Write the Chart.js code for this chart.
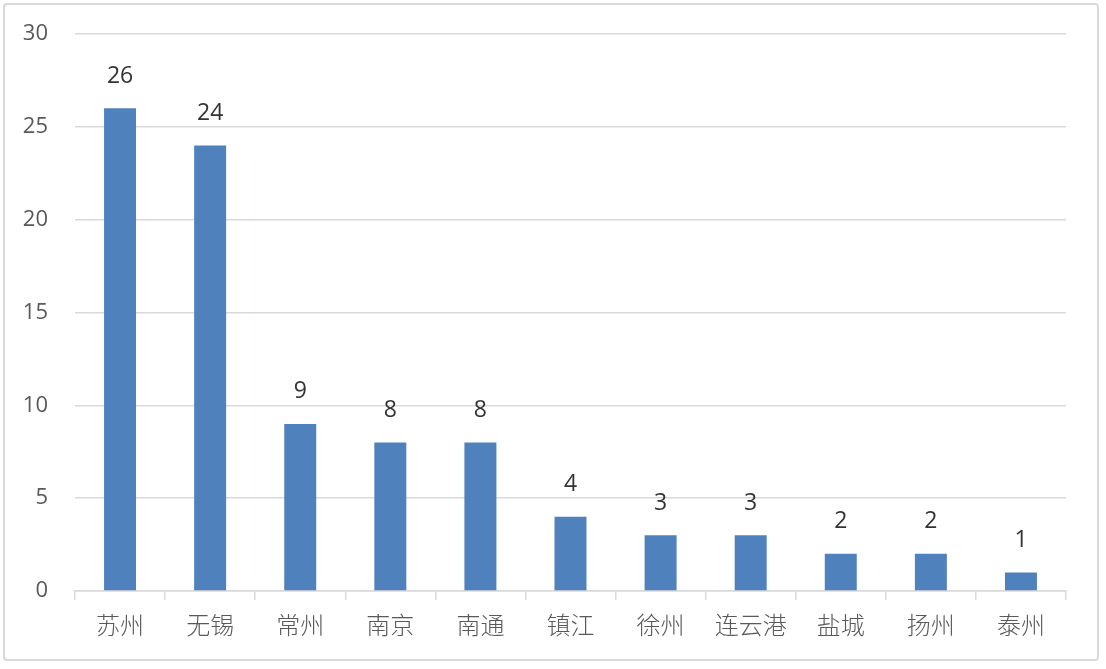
<!DOCTYPE html>
<html>
<head>
<meta charset="utf-8">
<script src="https://cdn.jsdelivr.net/npm/chart.js@4/dist/chart.umd.min.js"></script>
<style>
  html, body { margin: 0; padding: 0; background: #fff; }
  #wrap { position: relative; width: 1106px; height: 669px; }
  #frame { position: absolute; left: 3px; top: 3px; width: 1096px; height: 658px;
           border: 2px solid #d9d9d9; border-radius: 4px; box-sizing: border-box; pointer-events: none; }
</style>
</head>
<body>
<div id="wrap">
  <canvas id="cityChart" width="1106" height="669"></canvas>
  <div id="frame"></div>
</div>
<script>
const cities = ["苏州", "无锡", "常州", "南京", "南通", "镇江", "徐州", "连云港", "盐城", "扬州", "泰州"];
const counts = [26, 24, 9, 8, 8, 4, 3, 3, 2, 2, 1];
const yTicks = [0, 5, 10, 15, 20, 25, 30];

// value labels above each bar
const barLabels = {
    id: "barLabels",
    afterDatasetsDraw(chart) {
        const ctx = chart.ctx;
        const meta = chart.getDatasetMeta(0);
        ctx.save();
        ctx.font = "23px 'Open Sans', sans-serif";
        ctx.fillStyle = "#333333";
        ctx.textAlign = "center";
        ctx.textBaseline = "middle";
        meta.data.forEach((bar, i) => {
            ctx.fillText(String(counts[i]), bar.x, bar.y - 32);
        });
        ctx.restore();
    }
};

new Chart(document.getElementById("cityChart"), {
    type: "bar",
    data: {
        labels: cities,
        datasets: [{
            data: counts,
            backgroundColor: "#4f81bd",
            borderWidth: 0,
            barPercentage: 0.355,
            categoryPercentage: 1
        }]
    },
    options: {
        responsive: false,
        animation: false,
        layout: { padding: { top: 34, right: 40, bottom: 0, left: 0 } },
        plugins: {
            legend: { display: false },
            tooltip: { enabled: false }
        },
        scales: {
            y: {
                min: 0,
                max: 30,
                afterBuildTicks: scale => { scale.ticks = yTicks.map(v => ({ value: v })); },
                afterFit: scale => {
                    scale.width = 75;
                    scale.paddingTop = 0;
                    scale.paddingBottom = 0;
                },
                border: { display: false },
                grid: { color: "#d9d9d9", lineWidth: 1.5, drawTicks: false },
                ticks: {
                    color: "#595959",
                    padding: 27,
                    font: { family: "'Open Sans', sans-serif", size: 22 }
                }
            },
            x: {
                afterFit: scale => {
                    scale.height = 78;
                    scale.paddingLeft = 0;
                    scale.paddingRight = 0;
                },
                border: { display: true, color: "#d9d9d9", width: 1.5 },
                grid: { display: true, drawOnChartArea: false, color: "#d9d9d9", lineWidth: 1.5, tickLength: 9 },
                ticks: {
                    color: "#595959",
                    padding: 10,
                    font: { family: "'Noto Sans CJK SC', sans-serif", size: 24, weight: 300 }
                }
            }
        }
    },
    plugins: [barLabels]
});
</script>
</body>
</html>
